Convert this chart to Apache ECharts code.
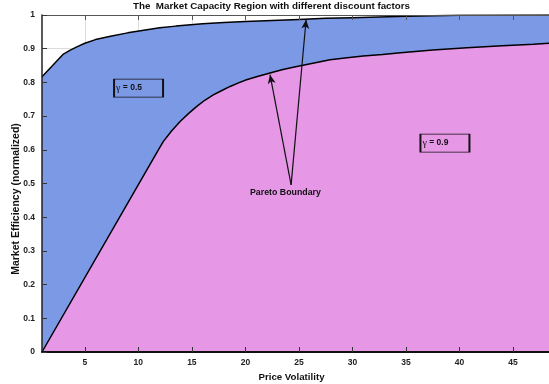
<!DOCTYPE html>
<html>
<head>
<meta charset="utf-8">
<script src="https://cdn.jsdelivr.net/npm/echarts@6/dist/echarts.min.js"></script>
<style>
html,body{margin:0;padding:0;background:#fff;}
#chart{width:549px;height:384px;}
</style>
</head>
<body>
<div id="chart"></div>
<script>
// ---- data ----
const xUpper = [1, 3, 3.6, 4.3, 5, 6, 7.4, 9, 10.5, 12, 13.5, 16, 18, 20, 22.5, 25, 27.5, 30, 35, 40, 48.36];
const yUpper = [0.817, 0.884, 0.895, 0.906, 0.916, 0.927, 0.937, 0.947, 0.955, 0.962, 0.967, 0.974, 0.978, 0.981, 0.984, 0.987, 0.990, 0.992, 0.996, 0.999, 1.0];

const xLower = [1, 11.87, 12.34, 13.1, 13.9, 14.7, 15.46, 16.2, 17, 17.8, 18.57, 19.3, 20.1, 21.2, 22.3, 23.5, 24.8, 26.3, 27.9, 29.5, 31, 32.8, 34.5, 37.5, 40.7, 44, 46.9, 48.36];
const yLower = [0, 0.600, 0.625, 0.656, 0.684, 0.708, 0.729, 0.747, 0.763, 0.776, 0.788, 0.798, 0.808, 0.818, 0.828, 0.838, 0.847, 0.857, 0.867, 0.873, 0.878, 0.883, 0.888, 0.896, 0.903, 0.909, 0.913, 0.916];

const xTicks = [5, 10, 15, 20, 25, 30, 35, 40, 45];
const xRange = [1, 48.36];
const yRange = [0, 1];
const yStep = 0.1;

// annotations (data coordinates)
const arrowStart = [24.27, 0.496];
const arrowEnds = [[22.3, 0.823], [25.67, 0.986]];
const paretoText = {text: 'Pareto Boundary', at: [23.74, 0.472]};
const gammaBoxes = [
  {value: '0.5', at: [10.02, 0.783]},
  {value: '0.9', at: [38.64, 0.620]}
];

const titleText = 'The  Market Capacity Region with different discount factors';
const xName = 'Price Volatility';
const yName = 'Market Efficiency (normalized)';

// ---- build ----
const toPairs = (xs, ys) => xs.map((x, i) => [x, ys[i]]);
const FONT = 'Liberation Sans, Arial, sans-serif';

const chart = echarts.init(document.getElementById('chart'), null, {renderer: 'canvas'});

const option = {
  animation: false,
  backgroundColor: '#fff',
  title: {
    text: titleText,
    left: 133, top: 1, padding: 0,
    textStyle: {fontSize: 9.8, fontWeight: 'bold', color: '#111', fontFamily: FONT}
  },
  grid: {left: 42, right: 0, top: 15, bottom: 32, containLabel: false, outerBoundsMode: 'none'},
  xAxis: [
    {
      type: 'value', position: 'bottom', min: xRange[0], max: xRange[1], z: 10,
      name: xName, nameLocation: 'middle', nameGap: 18,
      nameTextStyle: {fontSize: 9.7, fontWeight: 'bold', color: '#111', fontFamily: FONT, padding: [0, 8, 0, 0]},
      axisLine: {show: true, onZero: false, lineStyle: {color: '#111', width: 2}},
      axisTick: {show: true, inside: true, length: 5, customValues: xTicks, lineStyle: {color: '#333', width: 1}},
      axisLabel: {show: true, margin: 6, customValues: xTicks, fontSize: 8.5, fontWeight: 'bold', color: '#222', fontFamily: FONT},
      splitLine: {show: false}
    },
    {
      type: 'value', position: 'top', min: xRange[0], max: xRange[1], z: 10,
      axisLine: {show: true, onZero: false, lineStyle: {color: '#555', width: 1.2}},
      axisTick: {show: true, inside: true, length: 5, customValues: xTicks, lineStyle: {color: '#555', width: 1}},
      axisLabel: {show: false},
      splitLine: {show: false}
    },
    {
      type: 'value', position: 'bottom', min: xRange[0], max: xRange[1], z: 0,
      axisLine: {show: false},
      axisTick: {show: false, customValues: xTicks},
      axisLabel: {show: false, customValues: xTicks},
      splitLine: {show: true, lineStyle: {color: '#dcdcdc', width: 1}}
    }
  ],
  yAxis: [
    {
      type: 'value', position: 'left', min: yRange[0], max: yRange[1], interval: yStep, z: 10,
      axisLine: {show: true, onZero: false, lineStyle: {color: '#222', width: 1.5}},
      axisTick: {show: true, inside: true, length: 5, lineStyle: {color: '#333', width: 1}},
      axisLabel: {show: true, margin: 7, fontSize: 8.5, fontWeight: 'bold', color: '#222', fontFamily: FONT},
      splitLine: {show: false}
    },
    {
      type: 'value', position: 'right', min: yRange[0], max: yRange[1], interval: yStep, z: 0,
      axisLine: {show: false}, axisTick: {show: false}, axisLabel: {show: false},
      splitLine: {show: true, lineStyle: {color: '#dcdcdc', width: 1}}
    }
  ],
  graphic: [{
    type: 'text', x: 16, y: 199, rotation: Math.PI / 2,
    style: {text: yName, align: 'center', verticalAlign: 'middle',
      font: 'bold 10.5px ' + FONT, fill: '#111'}
  }],
  series: [
    {
      name: 'gamma0.5', type: 'line', xAxisIndex: 0, yAxisIndex: 0,
      data: toPairs(xUpper, yUpper), showSymbol: false, symbol: 'none',
      smooth: false, silent: true,
      lineStyle: {color: '#000', width: 1.5},
      areaStyle: {color: '#7c99e6', opacity: 1, origin: 'start'}
    },
    {
      name: 'gamma0.9', type: 'line', xAxisIndex: 0, yAxisIndex: 0,
      data: toPairs(xLower, yLower), showSymbol: false, symbol: 'none',
      smooth: false, silent: true,
      lineStyle: {color: '#000', width: 1.5},
      areaStyle: {color: '#e697e6', opacity: 1, origin: 'start'},
      markLine: {
        silent: true, symbol: ['none', 'arrow'], symbolSize: [6, 9], precision: 4,
        label: {show: false}, emphasis: {disabled: true},
        lineStyle: {color: '#111', width: 1.2, type: 'solid'},
        data: arrowEnds.map(e => [{coord: arrowStart}, {coord: e}])
      },
      markPoint: {
        silent: true, emphasis: {disabled: true},
        data: [
          {
            coord: paretoText.at, symbol: 'rect', symbolSize: [1, 1],
            itemStyle: {color: 'rgba(0,0,0,0)'},
            label: {show: true, position: 'inside', formatter: paretoText.text,
              fontSize: 8.8, fontWeight: 'bold', color: '#111', fontFamily: FONT}
          }
        ].concat(gammaBoxes.map(b => ({
          coord: b.at, symbol: 'rect', symbolSize: [49, 18],
          itemStyle: {color: 'rgba(0,0,0,0)', borderColor: '#111', borderWidth: 1.2},
          label: {
            show: true, position: 'insideLeft', distance: 3,
            formatter: '{g|γ}{v| = ' + b.value + '}',
            rich: {
              g: {fontFamily: 'Liberation Serif, Times New Roman, serif', fontSize: 10, color: '#111'},
              v: {fontFamily: FONT, fontSize: 8.5, fontWeight: 'bold', color: '#111'}
            }
          }
        })))
      }
    }
  ]
};

chart.setOption(option);
</script>
</body>
</html>
